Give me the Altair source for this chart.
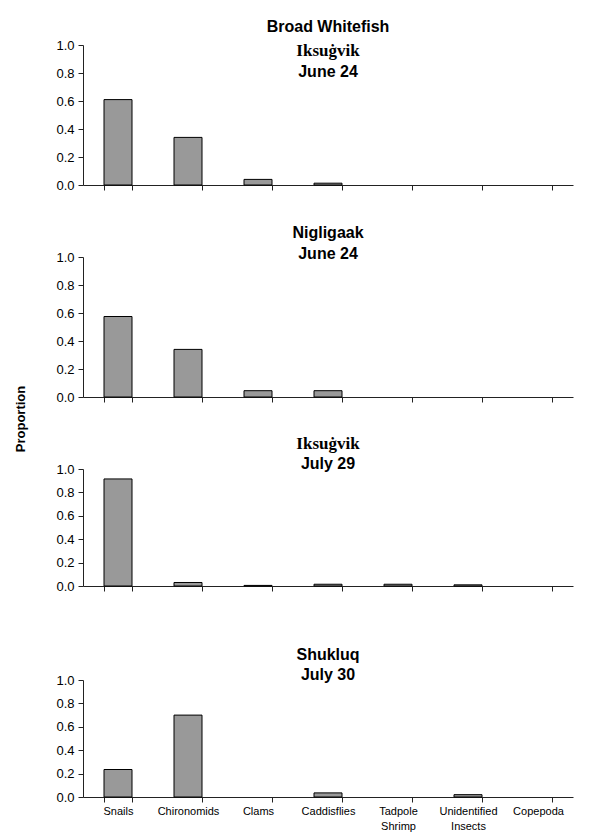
import altair as alt
import pandas as pd

categories = ["Snails", "Chironomids", "Clams", "Caddisflies",
              "Tadpole Shrimp", "Unidentified Insects", "Copepoda"]

iksugvik_jun24 = [0.61, 0.34, 0.04, 0.013, 0.0, 0.0, 0.0]
nigligaak_jun24 = [0.575, 0.34, 0.045, 0.045, 0.0, 0.0, 0.0]
iksugvik_jul29 = [0.915, 0.03, 0.005, 0.015, 0.015, 0.01, 0.0]
shukluq_jul30 = [0.235, 0.70, 0.0, 0.035, 0.0, 0.02, 0.0]

panel_values = [iksugvik_jun24, nigligaak_jun24, iksugvik_jul29, shukluq_jul30]

# title lines: (text, is_serif)
panel_titles = [
    [("Broad Whitefish", False), ("Iksuġvik", True), ("June 24", False)],
    [("Nigligaak", False), ("June 24", False)],
    [("Iksuġvik", True), ("July 29", False)],
    [("Shukluq", False), ("July 30", False)],
]
title_offsets = [[-18, 6, 27], [-24, -3], [-25, -5], [-25, -5]]

y_ticks = [0.0, 0.2, 0.4, 0.6, 0.8, 1.0]
y_title = "Proportion"

W = 490
heights = [140, 140, 117, 117]
gaps = [71.5, 71.5, 94]
SANS = "Liberation Sans"
SERIF = "Liberation Serif"
AXIS_COLOR = "#222222"


def make_panel(i):
    df = pd.DataFrame({"Prey": categories, "Proportion": panel_values[i]})
    show = i == 3
    x_axis = alt.Axis(
        title=None, labels=show, labelAngle=0, tickBand="extent",
        labelExpr="split(datum.label, ' ')", labelFont=SANS, labelFontSize=11,
        labelColor="#000000", labelLineHeight=15, labelPadding=3,
        tickSize=5, tickColor=AXIS_COLOR, domainColor=AXIS_COLOR, grid=False,
    )
    y_axis = alt.Axis(
        title=None, values=y_ticks, format=".1f", labelFont=SANS,
        labelFontSize=13, labelColor="#000000", labelPadding=4, tickSize=5,
        tickColor=AXIS_COLOR, domainColor=AXIS_COLOR, grid=False,
    )
    bars = alt.Chart(df).transform_filter(
        "datum.Proportion > 0"
    ).mark_bar(
        color="#999999", stroke="#000000", strokeWidth=1
    ).encode(
        x=alt.X("Prey:N", sort=categories,
                scale=alt.Scale(domain=categories, paddingInner=0.6, paddingOuter=0.3),
                axis=x_axis),
        y=alt.Y("Proportion:Q", scale=alt.Scale(domain=[0, 1]), axis=y_axis),
    )
    layers = [bars]
    for (txt, serif), off in zip(panel_titles[i], title_offsets[i]):
        t = alt.Chart(pd.DataFrame({"t": [txt]})).mark_text(
            font=SERIF if serif else SANS, fontSize=17 if serif else 16,
            fontWeight="bold", align="center", baseline="middle", color="#000000",
        ).encode(text="t:N", x=alt.value(W / 2), y=alt.value(off))
        layers.append(t)
    if i == 1:
        yt = alt.Chart(pd.DataFrame({"t": [y_title]})).mark_text(
            font=SANS, fontSize=13, fontWeight="bold", angle=270,
            align="center", baseline="middle", color="#000000",
        ).encode(text="t:N", x=alt.value(-62), y=alt.value(162))
        layers.append(yt)
    return alt.layer(*layers).properties(width=W, height=heights[i])


def spacer(h):
    return alt.Chart(pd.DataFrame({"t": [""]})).mark_text().encode(
        text="t:N"
    ).properties(width=W, height=h)


items = []
for i in range(4):
    items.append(make_panel(i))
    if i < 3:
        items.append(spacer(gaps[i]))

chart = alt.vconcat(*items, spacing=0, bounds="flush").properties(
    padding={"left": 7, "top": 11, "right": 5, "bottom": 5},
    background="#ffffff",
).configure_view(stroke="transparent", strokeWidth=0)

chart.save("out.html", embed_options={"renderer": "svg", "actions": False})
